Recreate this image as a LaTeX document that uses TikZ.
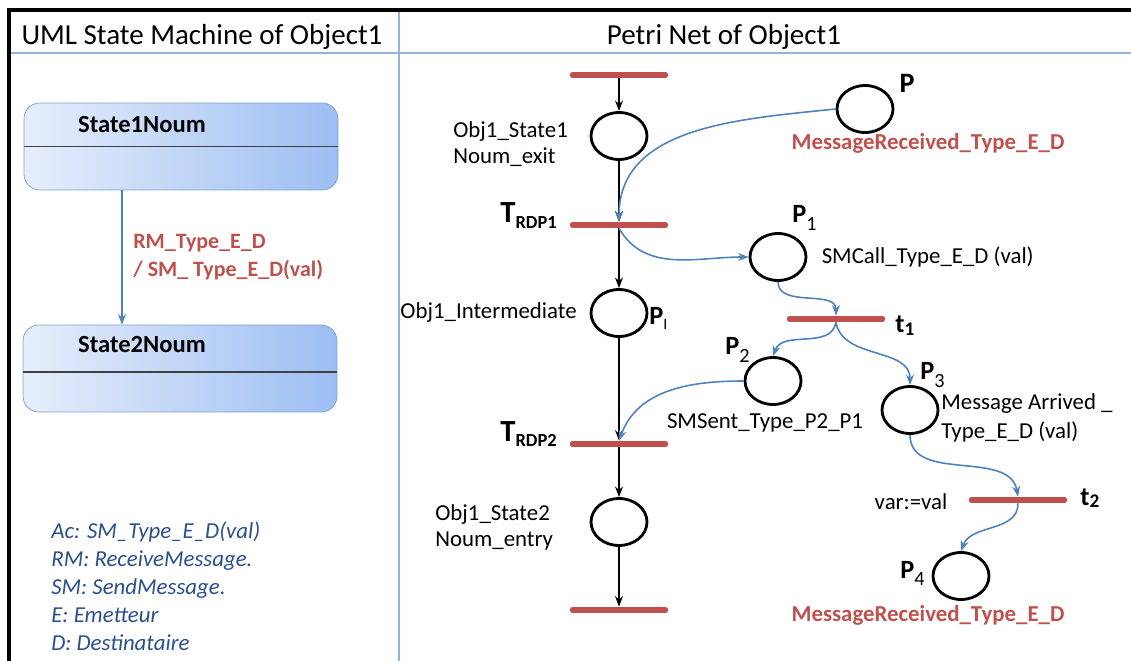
\documentclass[tikz,border=0pt]{standalone}
\usepackage{fontspec}
\setmainfont{Carlito}
\usetikzlibrary{arrows.meta,positioning,shapes.geometric}
\definecolor{Rojo}{HTML}{C0504D}
\definecolor{AzulArco}{HTML}{4F81BD}
\definecolor{AzulLinea}{HTML}{95B3D7}
\definecolor{AzulBorde}{HTML}{7F9FCB}
\definecolor{AzulClaro}{HTML}{E6EEFB}
\definecolor{AzulMedio}{HTML}{9CBEF2}
\definecolor{AzulTexto}{HTML}{2A4F8F}
\newcommand{\etiqP}[1]{{\bfseries\fontsize{15}{17}\selectfont P}\raisebox{-4pt}{\fontsize{11.5}{13}\selectfont #1}}

\begin{document}
\begin{tikzpicture}[x=0.02cm,y=-0.02cm,>={Stealth[length=6pt,width=4.5pt]},
  every node/.style={align=left,inner sep=0pt,font=\fontsize{13}{14.7}\selectfont},
  lugar/.style={draw,ellipse,line width=1.6pt,minimum width=1.12cm,minimum height=0.94cm},
  barra/.style={fill=Rojo,rounded corners=1pt,minimum width=1.96cm,minimum height=3.4pt},
  arco/.style={->,AzulArco,line width=0.9pt},
  negro/.style={->,line width=0.9pt},
  rojo/.style={Rojo,font=\bfseries\fontsize{13}{15}\selectfont},
  estado/.style={draw=AzulBorde,rounded corners=9pt,left color=AzulClaro,right color=AzulMedio,minimum width=6.28cm,minimum height=1.74cm}]
\useasboundingbox (0,0) rectangle (1131,661);
% marco
\draw[AzulLinea,line width=1.2pt] (399,8) -- (399,661);
\draw[AzulLinea,line width=0.8pt] (9,53) -- (1131,53);
\draw[line width=1.8pt] (9,661) -- (9,10) -- (1131,10);
\node[font=\fontsize{16.5}{19}\selectfont] (tizq) at (202,37) {UML State Machine of Object1};
\node[font=\fontsize{16.5}{19}\selectfont] (tder) at (724,37) {Petri Net of Object1};
% maquina de estados
\node[estado] (s1) at (181,146.5) {};
\draw[black!75,line width=0.8pt] (s1.west) -- (s1.east);
\node[font=\bfseries\fontsize{14}{16}\selectfont] (s1t) at (142,125) {State1Noum};
\node[estado] (s2) at (180,368.5) {};
\draw[black!75,line width=0.8pt] (s2.west |- 0,372) -- (s2.east |- 0,372);
\node[font=\bfseries\fontsize{14}{16}\selectfont] (s2t) at (142,345) {State2Noum};
\draw[arco] (s1.south -| 122,0) -- (s2.north -| 122,0);
\node[Rojo,font=\bfseries\fontsize{12.5}{16}\selectfont,anchor=west] (ev) at (133,257) {RM\_Type\_E\_D\\/ SM\_ Type\_E\_D(val)};
\node[AzulTexto,font=\itshape\fontsize{13}{16}\selectfont,anchor=west] (ley) at (51,586) {Ac: SM\_Type\_E\_D(val)\\RM: ReceiveMessage.\\SM: SendMessage.\\E: Emetteur\\D: Destinataire};
% red de Petri
\node[barra] (ti) at (619,75) {};
\node[lugar] (pex) at (619,136) {};
\node[barra] (tr1) at (619,225) {};
\node[lugar] (pint) at (619,313) {};
\node[barra] (tr2) at (619,444) {};
\node[lugar] (pent) at (619,522) {};
\node[barra] (tf) at (619,610) {};
\node[lugar] (p) at (865,109) {};
\node[lugar] (p1) at (778,257) {};
\node[barra] (t1) at (836,319) {};
\node[lugar] (p2) at (773,381) {};
\node[lugar] (p3) at (910,410) {};
\node[barra] (t2) at (1018,500) {};
\node[lugar] (p4) at (961,576) {};
\foreach \a/\b in {ti/pex,pex/tr1,tr1/pint,pint/tr2,tr2/pent,pent/tf}
  \draw[negro] (\a) -- (\b);
\draw[arco] (p.west) to[out=186,in=90] (tr1.north);
\draw[arco] (tr1.south) to[out=-60,in=180] (p1.west);
\draw[arco] (p1.south) to[out=-90,in=90] (t1.north);
\draw[arco] (t1.south) to[out=-100,in=70] (p2.north);
\draw[arco] (t1.south) to[out=-80,in=90] (p3.north);
\draw[arco] (p2.west) to[out=180,in=70] (tr2.north);
\draw[arco] (p3.south) to[out=-90,in=100] (t2.north);
\draw[arco] (t2.south) to[out=-90,in=70] (p4.north);
% etiquetas
\node[anchor=west] (lex) at (453,144) {Obj1\_State1\\Noum\_exit};
\node[anchor=east] (lint) at (577,313) {Obj1\_Intermediate};
\node[anchor=west] (lent) at (435,527) {Obj1\_State2\\Noum\_entry};
\node[anchor=base west] (ltr1) at (500,223) {\bfseries\fontsize{17.5}{20}\selectfont T\raisebox{-3.4pt}{\fontsize{10.5}{12}\selectfont RDP1}};
\node[anchor=base west] (ltr2) at (500,441) {\bfseries\fontsize{17.5}{20}\selectfont T\raisebox{-3.4pt}{\fontsize{10.5}{12}\selectfont RDP2}};
\node[font=\bfseries\fontsize{16}{18}\selectfont] (lp) at (907,83) {P};
\node[rojo] (mr1) at (928,143) {MessageReceived\_Type\_E\_D};
\node[anchor=base west] (lp1) at (792,223) {\etiqP{1}};
\node[right=0.28cm of p1] (call) {SMCall\_Type\_E\_D (val)};
\node[anchor=base west] (lpi) at (649,325) {{\bfseries\fontsize{15}{17}\selectfont P}\raisebox{-2.5pt}{\fontsize{9}{11}\selectfont I}};
\node[anchor=base west] (lt1) at (895,333) {\bfseries\fontsize{15}{17}\selectfont t\raisebox{-1.5pt}{\fontsize{11}{13}\selectfont 1}};
\node[anchor=base west] (lp2) at (725,355) {\etiqP{2}};
\node (sent) at (765,423) {SMSent\_Type\_P2\_P1};
\node[anchor=base west] (lp3) at (920,380) {\etiqP{3}};
\node[anchor=west,font=\fontsize{13}{16.4}\selectfont] (arr) at (941,418) {Message Arrived \_\\Type\_E\_D (val)};
\node (var) at (911,502) {var:=val};
\node[anchor=base west] (lt2) at (1080,505) {\bfseries\fontsize{15}{17}\selectfont t\raisebox{-1.5pt}{\fontsize{11}{13}\selectfont 2}};
\node[anchor=base west] (lp4) at (900,578) {\etiqP{4}};
\node[rojo] (mr2) at (928,615) {MessageReceived\_Type\_E\_D};
\end{tikzpicture}
\end{document}
